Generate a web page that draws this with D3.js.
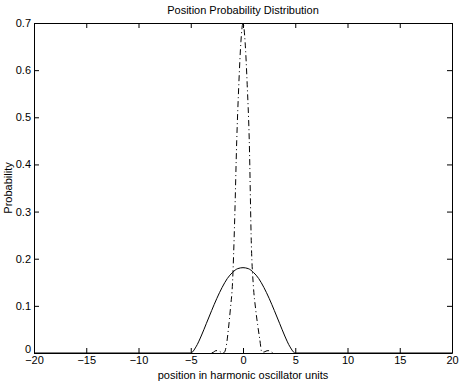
<!DOCTYPE html>
<html>
<head>
<meta charset="utf-8">
<script src="https://cdn.jsdelivr.net/npm/d3@7"></script>
<style>
  body { margin: 0; background: #fff; }
  svg text { font-family: "Liberation Sans", Arial, Helvetica, sans-serif; fill: #000; }
</style>
</head>
<body>
<script>
const [W, H] = [462, 382];
const margin = {left: 34, right: 10, top: 23, bottom: 29};

// solid curve (broad distribution)
const solidX = [-20, -5, -4.5, -4, -3.5, -3, -2.5, -2, -1.5, -1, -0.5, 0, 0.5, 1, 1.5, 2, 2.5, 3, 3.5, 4, 4.5, 5, 20];
const solidY = [0, 0, 0.013, 0.036, 0.063, 0.090, 0.116, 0.139, 0.158, 0.171, 0.179, 0.181, 0.179, 0.171, 0.158, 0.139, 0.116, 0.090, 0.063, 0.036, 0.013, 0, 0];

// dash-dot curve (narrow distribution)
const narrowX = [-3, -2.8, -2.6, -2.4, -2.2, -2, -1.8, -1.6, -1.4, -1.2, -1, -0.8, -0.6, -0.4, -0.2, 0,
                 0.2, 0.4, 0.6, 0.8, 1, 1.2, 1.4, 1.6, 1.8, 2, 2.2, 2.4, 2.6, 2.8, 3];
const narrowY = [0, 0.002, 0.005, 0.005, 0.003, 0, 0.001, 0.015, 0.05, 0.095, 0.15, 0.28, 0.45, 0.57, 0.66, 0.70,
                 0.66, 0.57, 0.45, 0.23, 0.14, 0.095, 0.06, 0.03, 0.002, 0.002, 0.004, 0.005, 0.004, 0.001, 0];

const xTicks = [-20, -15, -10, -5, 0, 5, 10, 15, 20];
const yTicks = [0, 0.1, 0.2, 0.3, 0.4, 0.5, 0.6, 0.7];

const svg = d3.select('body').append('svg').attr('width', W).attr('height', H);

const x = d3.scaleLinear().domain([-20, 20]).range([margin.left, W - margin.right]);
const y = d3.scaleLinear().domain([0, 0.7]).range([H - margin.bottom, margin.top]);

const fmt = d3.format('');

// axes with inward ticks
svg.append('g')
    .attr('transform', 'translate(0,' + (H - margin.bottom) + ')')
    .call(d3.axisBottom(x).tickValues(xTicks).tickSizeInner(-5).tickSizeOuter(0).tickPadding(3).tickFormat(fmt))
    .call(g => g.selectAll('text').attr('font-size', 11));

svg.append('g')
    .attr('transform', 'translate(0,' + margin.top + ')')
    .call(d3.axisTop(x).tickValues(xTicks).tickSizeInner(-5).tickSizeOuter(0).tickFormat(''));

svg.append('g')
    .attr('transform', 'translate(' + margin.left + ',0)')
    .call(d3.axisLeft(y).tickValues(yTicks).tickSizeInner(-5).tickSizeOuter(0).tickPadding(3).tickFormat(d => fmt(d)))
    .call(g => g.selectAll('text').attr('font-size', 11))
    // the zero label sits a little above its tick, as in the original
    .call(g => g.selectAll('.tick').filter(d => d === 0).select('text').attr('dy', '-0.05em'));

svg.append('g')
    .attr('transform', 'translate(' + (W - margin.right) + ',0)')
    .call(d3.axisRight(y).tickValues(yTicks).tickSizeInner(-5).tickSizeOuter(0).tickFormat(''));

svg.selectAll('.domain').attr('stroke', '#000');
svg.selectAll('.tick line').attr('stroke', '#000');

// data lines
const line = d3.line().x(d => x(d[0])).y(d => y(d[1]));

svg.append('path')
    .datum(solidX.map((v, i) => [v, solidY[i]]))
    .attr('d', line.curve(d3.curveMonotoneX))
    .attr('fill', 'none').attr('stroke', '#000').attr('stroke-width', 1);

svg.append('path')
    .datum(narrowX.map((v, i) => [v, narrowY[i]]))
    .attr('d', line.curve(d3.curveMonotoneX))
    .attr('fill', 'none').attr('stroke', '#000').attr('stroke-width', 1)
    .attr('stroke-dasharray', '6,3,1,3');

// titles
svg.append('text')
    .attr('x', x(0)).attr('y', 14)
    .attr('text-anchor', 'middle').attr('font-size', 11)
    .text('Position Probability Distribution');

svg.append('text')
    .attr('x', x(0)).attr('y', 379)
    .attr('text-anchor', 'middle').attr('font-size', 11)
    .text('position in harmonic oscillator units');

svg.append('text')
    .attr('transform', 'rotate(-90)')
    .attr('x', -y(0.35)).attr('y', 12)
    .attr('text-anchor', 'middle').attr('font-size', 11)
    .text('Probability');
</script>
</body>
</html>
